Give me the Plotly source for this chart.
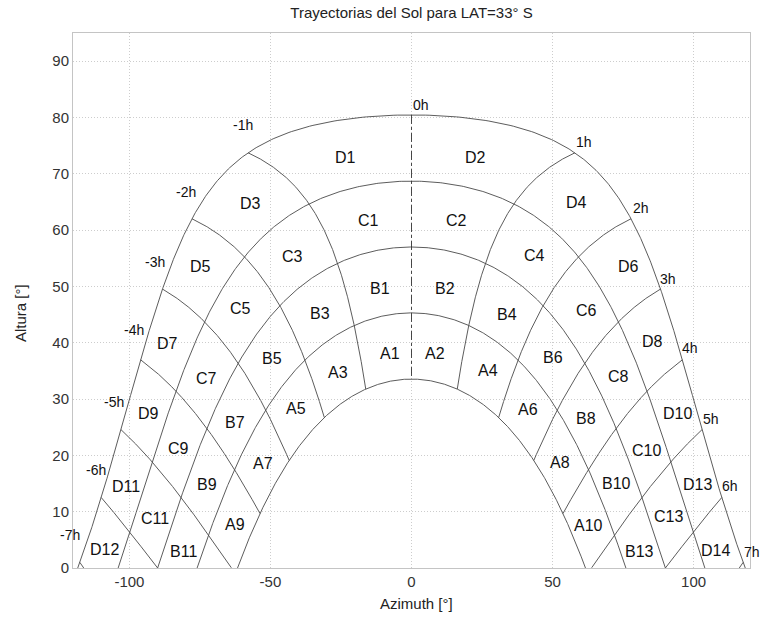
import numpy as np
import plotly.graph_objects as go

# Site latitude (southern hemisphere, degrees)
LAT = -33.0

# Declinations of the five sun paths drawn (degrees), highest path first
declinations = [-23.45, -11.7, 0.0, 11.7, 23.45]

# Solar hours from noon for the hour lines
hours = [-7, -6, -5, -4, -3, -2, -1, 0, 1, 2, 3, 4, 5, 6, 7]
hour_labels = ["-7h", "-6h", "-5h", "-4h", "-3h", "-2h", "-1h", "0h",
               "1h", "2h", "3h", "4h", "5h", "6h", "7h"]
hour_label_az = [-121, -112, -105.3, -98.2, -90.8, -80, -59.6, 3.2,
                 61.1, 81.2, 91.1, 98.9, 106, 112.9, 120.8]
hour_label_alt = [5.9, 17.4, 29.4, 42.2, 54.3, 66.7, 78.6, 82.3,
                  75.6, 63.9, 51.4, 39, 26.5, 14.5, 2.9]

# Sector names and their positions (azimuth, altitude)
sector_names = ["D1", "D2", "D3", "D4", "C1", "C2", "D5", "D6", "C3", "C4",
                "B1", "B2", "C5", "C6", "B3", "B4", "D7", "D8", "A1", "A2",
                "B5", "B6", "A3", "A4", "C7", "C8", "D9", "D10", "A5", "A6",
                "B7", "B8", "C9", "C10", "A7", "A8", "D11", "D13", "B9", "B10",
                "C11", "C13", "A9", "A10", "D12", "D14", "B11", "B13"]
sector_az = [-23.4, 22.7, -57.1, 58.5, -15.2, 16, -74.8, 77, -42.2, 43.6,
             -11, 12, -60.6, 62, -32.3, 34, -86.5, 85.5, -7.8, 8.2,
             -49.6, 50, -26.2, 27, -72.7, 73.4, -93.3, 94.2, -40.8, 41.4,
             -62.7, 62, -82.7, 83.2, -52.6, 52.6, -101.2, 101.3, -72.4, 72.7,
             -91, 91, -62.7, 62.9, -108.8, 107.8, -80.7, 80.9]
sector_alt = [72.9, 72.9, 64.7, 64.9, 61.7, 61.7, 53.6, 53.6, 55.3, 55.5,
              49.7, 49.7, 46.1, 45.8, 45.2, 45, 39.9, 40.3, 38.1, 38.1,
              37.2, 37.4, 34.8, 35.1, 33.7, 34, 27.5, 27.4, 28.4, 28.1,
              25.9, 26.5, 21.2, 20.9, 18.6, 18.8, 14.5, 14.8, 14.8, 15,
              8.8, 9.1, 7.8, 7.6, 3.3, 3.1, 3.0, 3.0]

# Axis ticks
x_ticks = [-100, -50, 0, 50, 100]
x_tick_text = ["-100", "-50", "0", "50", "100"]
y_ticks = [0, 10, 20, 30, 40, 50, 60, 70, 80, 90]

X_RANGE = [-120, 120]
Y_RANGE = [0, 95]


def sun_position(lat, dec, ha):
    """Altitude and azimuth (from the equator-facing direction, + afternoon)."""
    phi, d, h = np.radians(lat), np.radians(dec), np.radians(ha)
    sin_alt = np.sin(phi) * np.sin(d) + np.cos(phi) * np.cos(d) * np.cos(h)
    alt = np.degrees(np.arcsin(np.clip(sin_alt, -1, 1)))
    az = np.degrees(np.arctan2(np.sin(h),
                               -(np.cos(h) * np.sin(phi) - np.tan(d) * np.cos(phi))))
    return az, alt


def above_horizon(az, alt):
    keep = alt >= 0
    return az[keep], alt[keep]


line_style = dict(color="#4a4a4a", width=0.9)
fig = go.Figure()

# Daily sun paths
for dec in declinations:
    phi, d = np.radians(LAT), np.radians(dec)
    h0 = np.degrees(np.arccos(np.clip(-np.tan(phi) * np.tan(d), -1, 1)))
    ha = np.linspace(-h0, h0, 721)
    az, alt = sun_position(LAT, dec, ha)
    alt = np.maximum(alt, 0)
    fig.add_trace(go.Scatter(x=az, y=alt, mode="lines", line=line_style,
                             hoverinfo="skip", showlegend=False))

# Hour lines between the extreme paths
dec_range = np.linspace(min(declinations), max(declinations), 601)
for hr in hours:
    az, alt = sun_position(LAT, dec_range, np.full_like(dec_range, hr * 15.0))
    az, alt = above_horizon(az, alt)
    style = dict(line_style)
    if hr == 0:
        style.update(dash="dashdot", color="#333333")
    fig.add_trace(go.Scatter(x=az, y=alt, mode="lines", line=style,
                             hoverinfo="skip", showlegend=False))

font_main = "Arial, Liberation Sans, sans-serif"

for name, x, y in zip(sector_names, sector_az, sector_alt):
    fig.add_annotation(x=x, y=y, text=name, showarrow=False,
                       font=dict(family=font_main, size=16, color="#111111"))

# Hour labels; the outermost ones sit at the plot edge, so they are
# anchored on the axis limit and nudged outward in pixels
px_per_deg = 677 / (X_RANGE[1] - X_RANGE[0])
for name, x, y in zip(hour_labels, hour_label_az, hour_label_alt):
    xa = min(max(x, X_RANGE[0]), X_RANGE[1])
    shift = (x - xa) * px_per_deg
    fig.add_annotation(x=xa, y=y, text=name, showarrow=False, xshift=shift,
                       font=dict(family=font_main, size=14, color="#111111"))

fig.add_annotation(x=(416 - 73) / 677, y=-(603 - 568) / 535,
                   xref="paper", yref="paper",
                   text="Azimuth [°]", showarrow=False, yanchor="middle",
                   font=dict(family=font_main, size=15, color="#222222"))
fig.add_annotation(x=-(73 - 20) / 677, y=(568 - 313) / 535,
                   xref="paper", yref="paper",
                   text="Altura [°]", showarrow=False, textangle=-90,
                   xanchor="center", yanchor="middle",
                   font=dict(family=font_main, size=15, color="#222222"))

axis_common = dict(showgrid=True, gridcolor="#cdcdcd", griddash="1px,2px",
                   gridwidth=1, zeroline=False, showline=True,
                   linecolor="#c4c4c4", linewidth=1, mirror=True,
                   ticks="", tickfont=dict(family=font_main, size=15, color="#333333"))

fig.update_layout(
    width=763, height=618,
    margin=dict(l=73, r=13, t=33, b=50),
    paper_bgcolor="white", plot_bgcolor="white",
    title=dict(text="Trayectorias del Sol para LAT=33° S",
               x=(73 + 750) / 2 / 763, xanchor="center",
               y=1 - 13 / 618, yanchor="middle",
               font=dict(family=font_main, size=15, color="#222222")),
    xaxis=dict(range=X_RANGE, tickvals=x_ticks, ticktext=x_tick_text, **axis_common),
    yaxis=dict(range=Y_RANGE, tickvals=y_ticks, **axis_common),
)

fig.write_html("out.html")
